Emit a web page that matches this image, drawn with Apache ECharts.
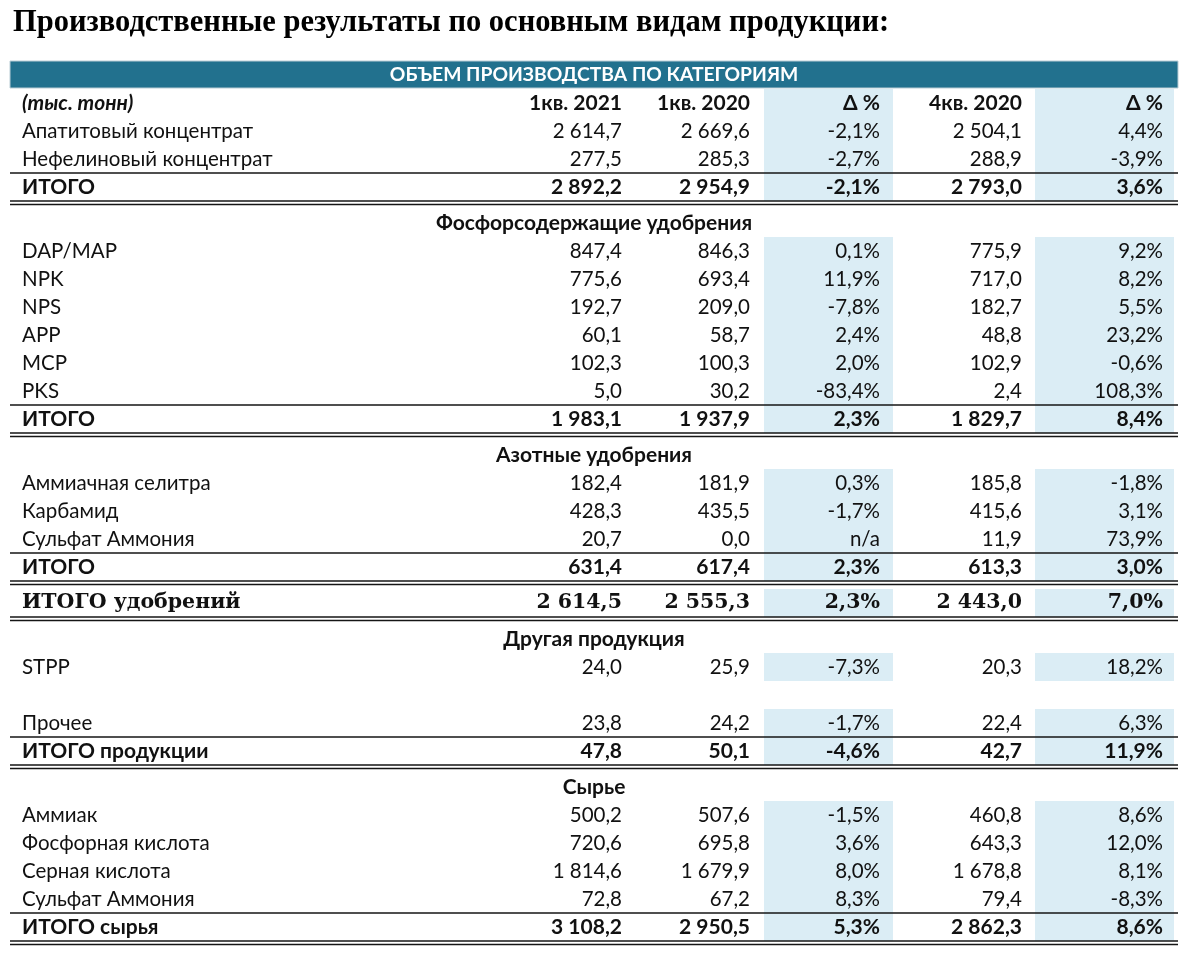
<!DOCTYPE html>
<html><head><meta charset="utf-8">
<script src="https://cdn.jsdelivr.net/npm/echarts@6/dist/echarts.min.js"></script>
<style>html,body{margin:0;padding:0;background:#fff}#chart{width:1200px;height:959px}</style>
</head><body><div id="chart"></div>
<script>
const titleText = 'Производственные результаты по основным видам продукции:';
const bandTitle = 'ОБЪЕМ ПРОИЗВОДСТВА ПО КАТЕГОРИЯМ';
const unitLabel = '(тыс. тонн)';
const columnHeaders = ['1кв. 2021', '1кв. 2020', 'Δ %', '4кв. 2020', 'Δ %'];
const rowLabels = ['Апатитовый концентрат','Нефелиновый концентрат','ИТОГО','Фосфорсодержащие удобрения','DAP/MAP','NPK','NPS','APP','MCP','PKS','ИТОГО','Азотные удобрения','Аммиачная селитра','Карбамид','Сульфат Аммония','ИТОГО','ИТОГО удобрений','Другая продукция','STPP','','Прочее','ИТОГО продукции','Сырье','Аммиак','Фосфорная кислота','Серная кислота','Сульфат Аммония','ИТОГО сырья'];
const rowKinds = ['item','item','total','section','item','item','item','item','item','item','total','section','item','item','item','total','grand','section','item','blank','item','total','section','item','item','item','item','total'];
const q1_2021 = [2614.7,277.5,2892.2,null,847.4,775.6,192.7,60.1,102.3,5.0,1983.1,null,182.4,428.3,20.7,631.4,2614.5,null,24.0,null,23.8,47.8,null,500.2,720.6,1814.6,72.8,3108.2];
const q1_2020 = [2669.6,285.3,2954.9,null,846.3,693.4,209.0,58.7,100.3,30.2,1937.9,null,181.9,435.5,0.0,617.4,2555.3,null,25.9,null,24.2,50.1,null,507.6,695.8,1679.9,67.2,2950.5];
const deltaYoY = [-2.1,-2.7,-2.1,null,0.1,11.9,-7.8,2.4,2.0,-83.4,2.3,null,0.3,-1.7,'n/a',2.3,2.3,null,-7.3,null,-1.7,-4.6,null,-1.5,3.6,8.0,8.3,5.3];
const q4_2020 = [2504.1,288.9,2793.0,null,775.9,717.0,182.7,48.8,102.9,2.4,1829.7,null,185.8,415.6,11.9,613.3,2443.0,null,20.3,null,22.4,42.7,null,460.8,643.3,1678.8,79.4,2862.3];
const deltaQoQ = [4.4,-3.9,3.6,null,9.2,8.2,5.5,23.2,-0.6,108.3,8.4,null,-1.8,3.1,73.9,3.0,7.0,null,18.2,null,6.3,11.9,null,8.6,12.0,8.1,-8.3,8.6];

// ---- layout (styles, not data) ----
const X = {left: 10, right: 1178, label: 22, center: 594, cols: [622, 750, 880, 1022, 1163], blue: [[764, 893], [1035, 1174]]};
const STEP = {band: 0, head: 29, item: 28, total: 28, section: 36, grand: 36, blank: 28};
const START_Y = 74;
const SANS = 'Lato, "Open Sans", sans-serif';
const SERIF = '"Liberation Serif", "DejaVu Serif", serif';
const GSERIF = '"DejaVu Serif", "Liberation Serif", serif';
const BLUE = '#dbedf5';
const TEAL = '#22718e';
const INK = '#111';

function fmtNum(v) {
  if (v === null || v === undefined) return '';
  const s = Math.abs(v).toFixed(1).split('.');
  const int = s[0].replace(/\B(?=(\d{3})+(?!\d))/g, ' ');
  return (v < 0 ? '-' : '') + int + ',' + s[1];
}
function fmtPct(v) {
  if (v === null || v === undefined) return '';
  if (typeof v === 'string') return v;
  return v.toFixed(1).replace('.', ',') + '%';
}

const kinds = ['band', 'head'].concat(rowKinds);
const labels = [bandTitle, unitLabel].concat(rowLabels);
const centers = [];
let yy = START_Y;
kinds.forEach((k, i) => { yy += (i === 0 ? 0 : STEP[k]); centers.push(yy); });

function cellValues(i) {
  if (i === 1) return columnHeaders;
  const r = i - 2;
  return [fmtNum(q1_2021[r]), fmtNum(q1_2020[r]), fmtPct(deltaYoY[r]), fmtNum(q4_2020[r]), fmtPct(deltaQoQ[r])];
}

function renderItem(params, api) {
  const i = params.dataIndex;
  const k = kinds[i];
  const c = api.value(1);
  const P = (x, y) => api.coord([x, y]);
  const ch = [];
  const text = (x, y, t, o) => ch.push({type: 'text', x: P(x, y)[0], y: P(x, y)[1], silent: true,
    style: Object.assign({text: t, fill: INK, fontFamily: SANS, fontSize: 20.5, fontWeight: 'normal', align: 'left', verticalAlign: 'middle'}, o)});
  const hline = (y, w) => { const a = P(X.left, y), b = P(X.right, y); ch.push({type: 'line', shape: {x1: a[0], y1: a[1], x2: b[0], y2: b[1]}, style: {stroke: '#151515', lineWidth: w || 1.4}}); };
  const blueCells = () => X.blue.forEach(([x0, x1]) => { const a = P(x0, c - 14), b = P(x1, c + 14); ch.push({type: 'rect', shape: {x: a[0], y: a[1], width: b[0] - a[0], height: b[1] - a[1]}, style: {fill: BLUE}}); });

  if (k === 'band') {
    const a = P(X.left, c - 13), b = P(X.right, c + 14);
    ch.push({type: 'rect', shape: {x: a[0], y: a[1], width: b[0] - a[0], height: b[1] - a[1]}, style: {fill: TEAL, stroke: '#b9cdd5', lineWidth: 1}});
    text(X.center, c + 0.5, labels[i], {fill: '#fff', fontWeight: 'bold', fontSize: 19.3, align: 'center'});
  } else if (k === 'section') {
    text(X.center, c, labels[i], {fontWeight: 'bold', fontSize: 21, align: 'center'});
  } else if (k === 'blank') {
    // empty spacer row
  } else {
    blueCells();
    if (k === 'total') { hline(c - 14); hline(c + 14, 1.5); hline(c + 17.5, 1.5); }
    if (k === 'grand') { hline(c + 14, 1.5); hline(c + 17.5, 1.5); }
    const bold = (k !== 'item');
    const fam = (k === 'grand') ? GSERIF : SANS;
    const size = (k === 'grand') ? 20.5 : (bold ? 21 : 20.5);
    text(X.label, c, labels[i], {fontWeight: bold ? 'bold' : 'normal', fontStyle: k === 'head' ? 'italic' : 'normal', fontFamily: fam, fontSize: size});
    cellValues(i).forEach((t, j) => text(X.cols[j], c, t, {align: 'right', fontWeight: bold ? 'bold' : 'normal', fontFamily: fam, fontSize: size}));
  }
  return {type: 'group', children: ch};
}

const chart = echarts.init(document.getElementById('chart'), null, {renderer: 'canvas'});
chart.setOption({
  animation: false,
  backgroundColor: '#fff',
  title: {text: titleText, left: 8, top: 3, textStyle: {fontFamily: SERIF, fontWeight: 'bold', fontSize: 30.5, color: '#000'}},
  grid: {left: 0, right: 0, top: 0, bottom: 0},
  xAxis: {type: 'value', min: 0, max: 1200, show: false},
  yAxis: {type: 'value', min: 0, max: 959, inverse: true, show: false},
  series: [{
    type: 'custom', silent: true, clip: false,
    renderItem: renderItem,
    data: kinds.map((k, i) => [X.left, centers[i]]),
    encode: {x: 0, y: 1}
  }]
});
</script></body></html>
